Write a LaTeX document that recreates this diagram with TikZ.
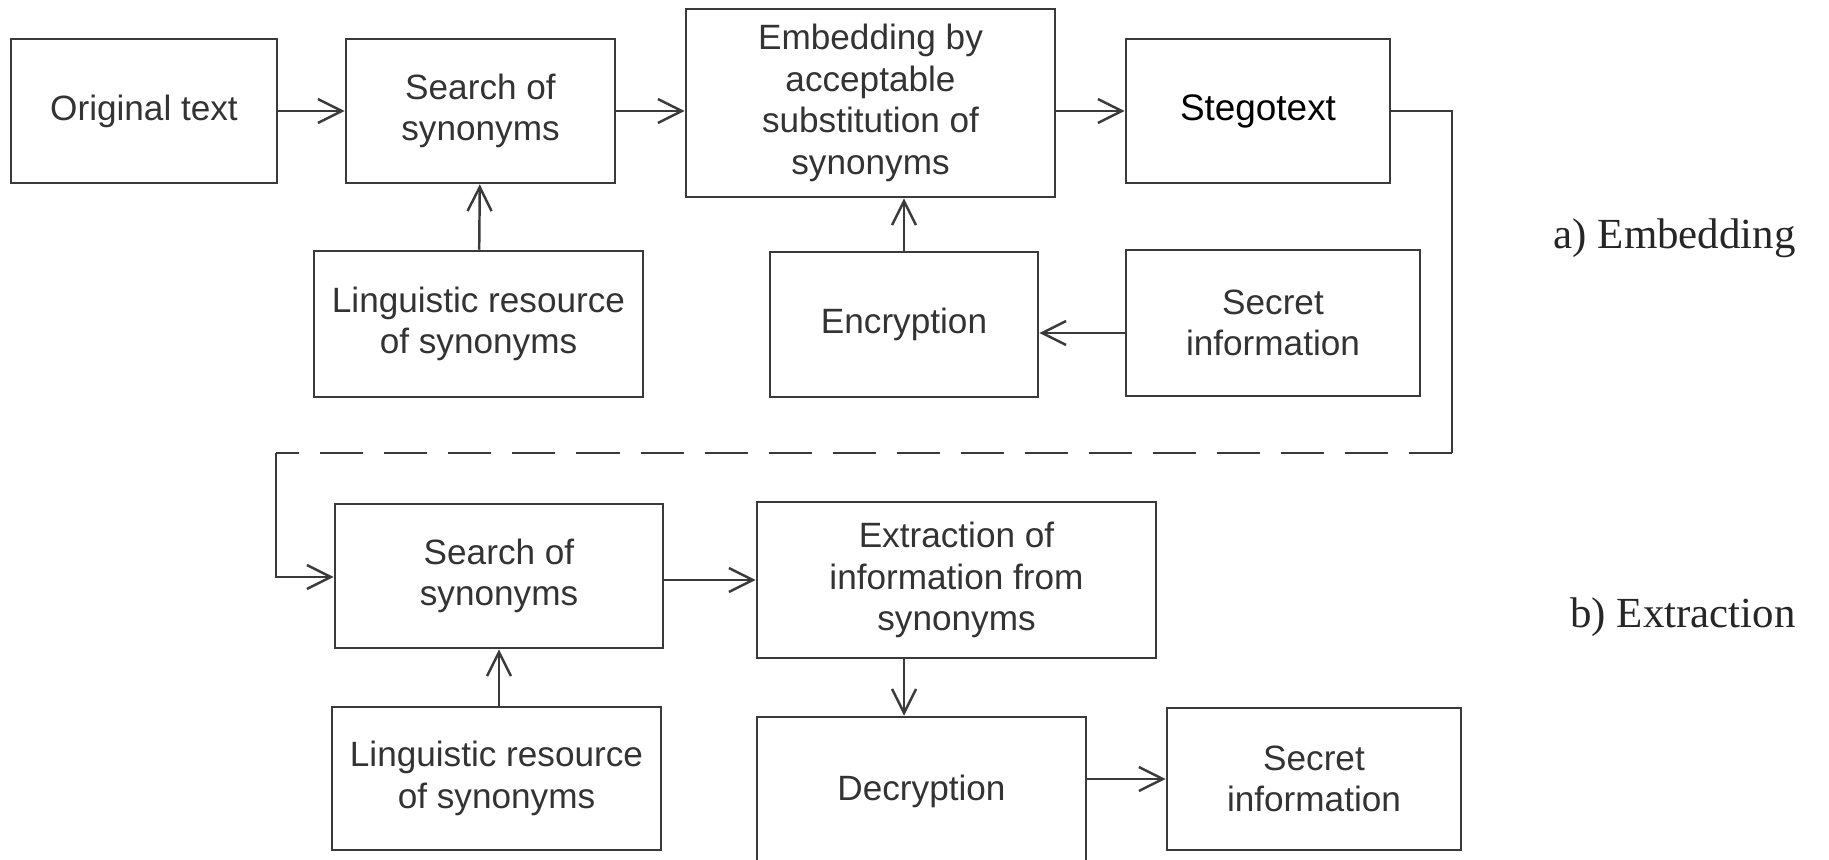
\documentclass[tikz,border=0pt]{standalone}
\usepackage{fontspec}
\setmainfont{Liberation Sans}
\newfontfamily\serifcap{Liberation Serif}
\usetikzlibrary{arrows.meta}
\definecolor{linegray}{HTML}{3A3A3A}
\definecolor{textgray}{HTML}{333333}
\newcommand{\boxfont}{\fontsize{10}{11.8}\selectfont}

\begin{document}
\begin{tikzpicture}[x=0.01cm,y=-0.01cm,
    box/.style 2 args={draw=linegray,line width=0.7pt,align=center,inner sep=0pt,
      text=textgray,font=\boxfont,minimum width=#1,minimum height=#2},
    flow/.style={draw=linegray,line width=0.7pt,-{Straight Barb[length=2.4mm,width=2.4mm]}},
    link/.style={draw=linegray,line width=0.7pt},
    caption/.style={anchor=base east,font=\serifcap\fontsize{12.2}{14}\selectfont,text=black!85}]
  \useasboundingbox (0,0) rectangle (1829,859);
  % a) embedding
  \draw
    (144,111) node[box={2.66cm}{1.44cm}] (orig){Original text}
    (480.5,111) node[box={2.69cm}{1.44cm}] (search1){Search of\\synonyms}
    (478.5,324) node[box={3.29cm}{1.46cm}] (ling1){Linguistic resource\\of synonyms}
    (870.5,103) node[box={3.69cm}{1.88cm}] (embed){Embedding by\\acceptable\\substitution of\\synonyms}
    (1258,111) node[box={2.64cm}{1.44cm},text=black,font=\fontsize{10.5}{12}\selectfont] (steg){Stegotext}
    (904,324.5) node[box={2.68cm}{1.45cm}] (encr){Encryption}
    (1273,323) node[box={2.94cm}{1.46cm}] (secret1){Secret\\information};
  % b) extraction
  \draw
    (499,576) node[box={3.28cm}{1.44cm}] (search2){Search of\\synonyms}
    (496.5,778.5) node[box={3.29cm}{1.43cm}] (ling2){Linguistic resource\\of synonyms}
    (956.5,580) node[box={3.99cm}{1.56cm}] (extr){Extraction of\\information from\\synonyms}
    (921.5,791) node[box={3.29cm}{1.48cm}] (decr){Decryption}
    (1314,779) node[box={2.94cm}{1.42cm}] (secret2){Secret\\information};
  \node[caption] (capa) at (1808,248) {a) Embedding};
  \node[caption] (capb) at (1808,627) {b) Extraction};
  \coordinate (s1in) at (1126,333);
  \coordinate (dx) at (904,0);
  \coordinate (c1) at (1452,111);
  \coordinate (c2) at (1452,453);
  \coordinate (c3) at (276,453);
  \coordinate (c4) at (276,577);
  \begin{scope}[flow]
    \draw (orig) to (search1);
    \draw (search1.east) to (search1.east -| embed.west);
    \draw (embed.east |- steg.west) to (steg.west);
    \draw (ling1) to (search1);
    \draw (encr.north) to (encr.north |- embed.south);
    \draw (s1in) to (s1in -| encr.east);
    \draw (search2.east |- extr.west) to (extr.west);
    \draw (ling2.north -| search2.south) to (search2.south);
    \draw (extr.south -| dx) to (decr.north -| dx);
    \draw (decr.east |- secret2.west) to (secret2.west);
  \end{scope}
  \draw[link] (steg.east) -- (c1) -- (c2);
  \draw[link,dash pattern=on 0.43cm off 0.21cm] (c2) -- (c3);
  \draw[flow] (c3) -- (c4) -- (c4 -| search2.west);
\end{tikzpicture}
\end{document}
